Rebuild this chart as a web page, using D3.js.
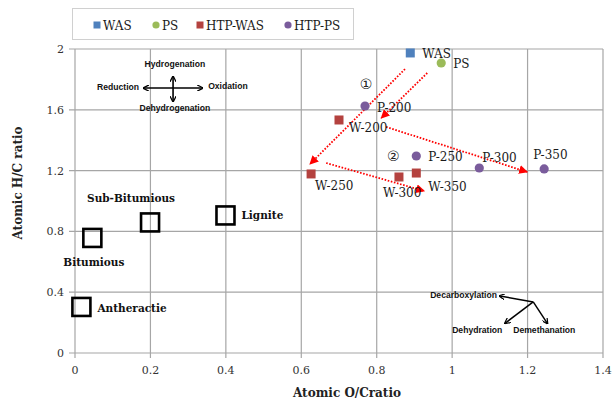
<!DOCTYPE html>
<html>
<head>
<meta charset="utf-8">
<script src="https://cdn.jsdelivr.net/npm/d3@7"></script>
<style>
  body { margin: 0; background: #fff; }
  svg { display: block; }
</style>
</head>
<body>
<div id="chart"></div>
<script>
// series + labels (O/C, H/C)
var wasPts = [{ name: "WAS", oc: 0.889, hc: 1.974 }];
var psPts = [{ name: "PS", oc: 0.971, hc: 1.908 }];
var htpWas = [
  { name: "W-200", oc: 0.700, hc: 1.533 },
  { name: "W-250", oc: 0.626, hc: 1.178 },
  { name: "W-300", oc: 0.859, hc: 1.158 },
  { name: "W-350", oc: 0.905, hc: 1.184 }
];
var htpPs = [
  { name: "P-200", oc: 0.769, hc: 1.625 },
  { name: "P-250", oc: 0.905, hc: 1.296 },
  { name: "P-300", oc: 1.072, hc: 1.217 },
  { name: "P-350", oc: 1.244, hc: 1.211 }
];
var coals = [
  { name: "Antheractie", oc: 0.017, hc: 0.303 },
  { name: "Bitumious", oc: 0.046, hc: 0.757 },
  { name: "Sub-Bitumious", oc: 0.199, hc: 0.859 },
  { name: "Lignite", oc: 0.399, hc: 0.905 }
];
var xTicks = [0, 0.2, 0.4, 0.6, 0.8, 1, 1.2, 1.4];
var yTicks = [0, 0.4, 0.8, 1.2, 1.6, 2];
var legendNames = ["WAS", "PS", "HTP-WAS", "HTP-PS"];

// red dotted trend arrows, [from, to] in data units
var trendArrows = [
  [[0.875, 1.868], [0.623, 1.243]],
  [[0.934, 1.842], [0.812, 1.546]],
  [[0.825, 1.487], [1.199, 1.191]],
  [[0.666, 1.250], [0.926, 1.066]]
];
var circled = [
  { t: "\u2460", oc: 0.772, hc: 1.77 },
  { t: "\u2461", oc: 0.844, hc: 1.296 }
];

var width = 616, height = 400;
var margin = { top: 49, right: 13, bottom: 47, left: 75 };

var svg = d3.select("#chart").append("svg")
    .attr("width", width)
    .attr("height", height);

var defs = svg.append("defs");
defs.append("marker")
    .attr("id", "redHead")
    .attr("viewBox", "0 0 10 10")
    .attr("refX", 9).attr("refY", 5)
    .attr("markerWidth", 5).attr("markerHeight", 5)
    .attr("markerUnits", "strokeWidth")
    .attr("orient", "auto")
    .append("path").attr("d", "M0,0L10,5L0,10z").attr("fill", "#ff0000");
defs.append("marker")
    .attr("id", "blackHead")
    .attr("viewBox", "0 0 10 10")
    .attr("refX", 8).attr("refY", 5)
    .attr("markerWidth", 4).attr("markerHeight", 4)
    .attr("markerUnits", "strokeWidth")
    .attr("orient", "auto-start-reverse")
    .append("path").attr("d", "M0,0L10,5L0,10")
    .attr("fill", "none").attr("stroke", "#000").attr("stroke-width", 2);

var x = d3.scaleLinear().domain([0, 1.4]).range([margin.left, width - margin.right]);
var y = d3.scaleLinear().domain([0, 2]).range([height - margin.bottom, margin.top]);

var serif = "'DejaVu Serif', serif";
var sans = "'Liberation Sans', Arial, sans-serif";

// grid
var grid = svg.append("g");
grid.selectAll(".vg").data(xTicks).enter().append("line")
    .attr("x1", function(d) { return x(d); }).attr("x2", function(d) { return x(d); })
    .attr("y1", y(2)).attr("y2", y(0) + 5)
    .attr("stroke", "#a6a6a6").attr("stroke-width", 1.2);
grid.selectAll(".hg").data(yTicks).enter().append("line")
    .attr("x1", x(0) - 6).attr("x2", x(1.4))
    .attr("y1", function(d) { return y(d); }).attr("y2", function(d) { return y(d); })
    .attr("stroke", "#a6a6a6").attr("stroke-width", 1.2);

// tick labels
svg.append("g").selectAll("text").data(xTicks).enter().append("text")
    .attr("x", function(d) { return x(d); })
    .attr("y", y(0) + 21)
    .attr("text-anchor", "middle")
    .style("font", "11px " + serif).style("fill", "#333")
    .text(function(d) { return d; });
svg.append("g").selectAll("text").data(yTicks).enter().append("text")
    .attr("x", x(0) - 11)
    .attr("y", function(d) { return y(d) + 4; })
    .attr("text-anchor", "end")
    .style("font", "11px " + serif).style("fill", "#333")
    .text(function(d) { return d; });

// axis titles
svg.append("text")
    .attr("x", 347).attr("y", 397)
    .attr("text-anchor", "middle")
    .style("font", "bold 12px " + serif).style("fill", "#222")
    .text("Atomic O/Cratio");
svg.append("text")
    .attr("transform", "translate(22,183) rotate(-90)")
    .attr("text-anchor", "middle")
    .style("font", "bold 12px " + serif).style("fill", "#222")
    .text("Atomic H/C ratio");

// coal reference boxes
var coalLabel = {
  "Antheractie": { dx: 16, dy: 5, anchor: "start" },
  "Bitumious": { dx: -29, dy: 28, anchor: "start" },
  "Sub-Bitumious": { dx: -63, dy: -20, anchor: "start" },
  "Lignite": { dx: 16, dy: 4, anchor: "start" }
};
var coalG = svg.append("g");
coalG.selectAll("rect").data(coals).enter().append("rect")
    .attr("x", function(d) { return x(d.oc) - 9; })
    .attr("y", function(d) { return y(d.hc) - 9; })
    .attr("width", 18).attr("height", 18)
    .attr("fill", "none").attr("stroke", "#000").attr("stroke-width", 2.6);
coalG.selectAll("text").data(coals).enter().append("text")
    .attr("x", function(d) { return x(d.oc) + coalLabel[d.name].dx; })
    .attr("y", function(d) { return y(d.hc) + coalLabel[d.name].dy; })
    .attr("text-anchor", function(d) { return coalLabel[d.name].anchor; })
    .style("font", "bold 10.5px " + serif).style("fill", "#111")
    .text(function(d) { return d.name; });

// trend arrows
svg.append("g").selectAll("line").data(trendArrows).enter().append("line")
    .attr("x1", function(d) { return x(d[0][0]); })
    .attr("y1", function(d) { return y(d[0][1]); })
    .attr("x2", function(d) { return x(d[1][0]); })
    .attr("y2", function(d) { return y(d[1][1]); })
    .attr("stroke", "#ff0000").attr("stroke-width", 1.8)
    .attr("stroke-dasharray", "1.6,1.6")
    .attr("marker-end", "url(#redHead)");

svg.append("g").selectAll("text").data(circled).enter().append("text")
    .attr("x", function(d) { return x(d.oc); })
    .attr("y", function(d) { return y(d.hc) + 5; })
    .attr("text-anchor", "middle")
    .style("font", "14px 'DejaVu Sans', sans-serif").style("fill", "#222")
    .text(function(d) { return d.t; });

// direction arrows, top-left
var dirG = svg.append("g");
dirG.append("line")
    .attr("x1", x(0.183)).attr("x2", x(0.337))
    .attr("y1", y(1.743)).attr("y2", y(1.743))
    .attr("stroke", "#000").attr("stroke-width", 1.6)
    .attr("marker-start", "url(#blackHead)").attr("marker-end", "url(#blackHead)");
dirG.append("line")
    .attr("x1", x(0.26)).attr("x2", x(0.26))
    .attr("y1", y(1.816)).attr("y2", y(1.658))
    .attr("stroke", "#000").attr("stroke-width", 1.6)
    .attr("marker-start", "url(#blackHead)").attr("marker-end", "url(#blackHead)");
var dirLabels = [
  { t: "Hydrogenation", oc: 0.265, hc: 1.88, a: "middle" },
  { t: "Dehydrogenation", oc: 0.265, hc: 1.59, a: "middle" },
  { t: "Reduction", oc: 0.17, hc: 1.728, a: "end" },
  { t: "Oxidation", oc: 0.353, hc: 1.735, a: "start" },
  { t: "Decarboxylation", oc: 1.119, hc: 0.36, a: "end" },
  { t: "Dehydration", oc: 1.0, hc: 0.13, a: "start" },
  { t: "Demethanation", oc: 1.162, hc: 0.13, a: "start" }
];
dirG.selectAll("text").data(dirLabels).enter().append("text")
    .attr("x", function(d) { return x(d.oc); })
    .attr("y", function(d) { return y(d.hc); })
    .attr("text-anchor", function(d) { return d.a; })
    .style("font", "bold 8.6px " + sans).style("fill", "#111")
    .text(function(d) { return d.t; });

// reaction arrows, bottom-right
var origin = [1.215, 0.336];
var reactEnds = [[1.127, 0.375], [1.141, 0.197], [1.252, 0.197]];
dirG.selectAll(".react").data(reactEnds).enter().append("line")
    .attr("x1", x(origin[0])).attr("y1", y(origin[1]))
    .attr("x2", function(d) { return x(d[0]); })
    .attr("y2", function(d) { return y(d[1]); })
    .attr("stroke", "#000").attr("stroke-width", 1.5)
    .attr("marker-end", "url(#blackHead)");

// data points
var colors = { "WAS": "#4f81bd", "PS": "#9bbb59", "HTP-WAS": "#b4423f", "HTP-PS": "#7a5c9c" };
var series = [
  { key: "WAS", pts: wasPts, shape: "square" },
  { key: "PS", pts: psPts, shape: "circle" },
  { key: "HTP-WAS", pts: htpWas, shape: "square" },
  { key: "HTP-PS", pts: htpPs, shape: "circle" }
];
var ptLabel = {
  "WAS": [12, 5], "PS": [12, 5], "P-200": [12, 6], "W-200": [10, 12],
  "W-250": [4, 16], "W-300": [-16, 20], "W-350": [12, 18], "P-250": [12, 5],
  "P-300": [3, -6], "P-350": [-11, -10]
};
var ptG = svg.append("g");
series.forEach(function(s) {
  var g = ptG.append("g");
  if (s.shape === "square") {
    g.selectAll("rect").data(s.pts).enter().append("rect")
        .attr("x", function(d) { return x(d.oc) - 4.5; })
        .attr("y", function(d) { return y(d.hc) - 4.5; })
        .attr("width", 9).attr("height", 9)
        .attr("fill", colors[s.key]);
  } else {
    g.selectAll("circle").data(s.pts).enter().append("circle")
        .attr("cx", function(d) { return x(d.oc); })
        .attr("cy", function(d) { return y(d.hc); })
        .attr("r", 4.6)
        .attr("fill", colors[s.key]);
  }
  g.selectAll("text").data(s.pts).enter().append("text")
      .attr("x", function(d) { return x(d.oc) + ptLabel[d.name][0]; })
      .attr("y", function(d) { return y(d.hc) + ptLabel[d.name][1]; })
      .style("font", "12px " + serif).style("fill", "#1a1a1a")
      .text(function(d) { return d.name; });
});

// legend
var lg = svg.append("g");
lg.append("rect")
    .attr("x", 72.5).attr("y", 8.5).attr("width", 281).attr("height", 31)
    .attr("fill", "#fff").attr("stroke", "#d0d0d0");
var legX = [97, 156, 200, 288];
var items = lg.selectAll("g.item").data(legendNames).enter().append("g")
    .attr("transform", function(d, i) { return "translate(" + legX[i] + ",25)"; });
items.each(function(d, i) {
  var it = d3.select(this);
  if (i % 2 === 0) {
    it.append("rect").attr("x", -3.5).attr("y", -3.5).attr("width", 7).attr("height", 7)
        .attr("fill", colors[d]);
  } else {
    it.append("circle").attr("r", 3.6).attr("fill", colors[d]);
  }
  it.append("text").attr("x", 6).attr("y", 4.5)
      .style("font", "12px " + serif).style("fill", "#1a1a1a")
      .text(d);
});
</script>
</body>
</html>
